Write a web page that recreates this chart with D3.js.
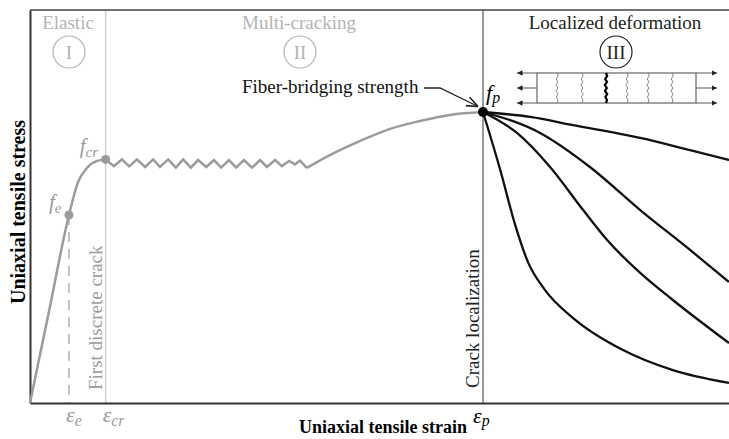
<!DOCTYPE html>
<html>
<head>
<meta charset="utf-8">
<script src="https://cdn.jsdelivr.net/npm/d3@7"></script>
<style>
body { margin: 0; background: #fff; }
svg { display: block; font-family: "Liberation Serif", "Times New Roman", serif; }
</style>
</head>
<body>
<div id="chart"></div>
<script>
// normalised strain (eps / eps_p) and stress (f / f_p)
const strainTicks = [0.086, 0.167, 1]      // eps_e, eps_cr, eps_p
const stressLevels = [0.646, 0.837, 1]     // f_e, f_cr, f_p
const xMax = 1.543, yMax = 1.3505

const elastic = [[0, 0], [0.043, 0.323], [0.086, 0.646], [0.106, 0.759], [0.126, 0.808], [0.148, 0.832], [0.167, 0.837]]
const cracking = [[0.167, 0.837], [0.185, 0.814], [0.203, 0.837], [0.219, 0.813], [0.236, 0.837], [0.254, 0.811],
    [0.272, 0.837], [0.287, 0.811], [0.305, 0.837], [0.322, 0.809], [0.338, 0.837], [0.355, 0.809], [0.371, 0.835],
    [0.389, 0.811], [0.406, 0.835], [0.422, 0.809], [0.439, 0.835], [0.455, 0.809], [0.472, 0.835], [0.490, 0.809],
    [0.508, 0.835], [0.523, 0.811], [0.541, 0.835], [0.556, 0.814], [0.572, 0.832], [0.585, 0.820], [0.596, 0.833],
    [0.611, 0.808]]
const hardening = [[0.611, 0.808], [0.662, 0.852], [0.728, 0.900], [0.795, 0.942], [0.861, 0.969], [0.927, 0.990], [1, 1]]
const softA = [[1, 1], [1.104, 0.983], [1.199, 0.955], [1.347, 0.911], [1.457, 0.869], [1.543, 0.835]]
const softB = [[1, 1], [1.126, 0.928], [1.236, 0.811], [1.347, 0.663], [1.457, 0.526], [1.543, 0.416]]
const softC = [[1, 1], [1.075, 0.928], [1.148, 0.811], [1.221, 0.663], [1.274, 0.560], [1.347, 0.447], [1.419, 0.354], [1.543, 0.206]]
const softD = [[1, 1], [1.038, 0.801], [1.071, 0.612], [1.099, 0.485], [1.137, 0.388], [1.199, 0.292], [1.309, 0.182], [1.419, 0.113], [1.543, 0.069]]

const gray = '#9b9b9b', lightGray = '#b4b4b4'

let svg = d3.select('#chart').append('svg')
    .attr('width', 729).attr('height', 439)

let x = d3.scaleLinear().domain([0, xMax]).range([30, 729])
let y = d3.scaleLinear().domain([0, yMax]).range([403, 10])

let smooth = d3.line().x(d => x(d[0])).y(d => y(d[1])).curve(d3.curveMonotoneX)
let straight = d3.line().x(d => x(d[0])).y(d => y(d[1]))

// vertical guide lines
svg.append('line')
    .attr('x1', x(strainTicks[1])).attr('x2', x(strainTicks[1]))
    .attr('y1', y(yMax)).attr('y2', y(0))
    .style('stroke', '#cfcfcf').style('stroke-width', 1.5)
svg.append('line')
    .attr('x1', x(strainTicks[2])).attr('x2', x(strainTicks[2]))
    .attr('y1', y(yMax)).attr('y2', y(0))
    .style('stroke', '#555').style('stroke-width', 1.2)
svg.append('line')
    .attr('x1', x(strainTicks[0])).attr('x2', x(strainTicks[0]))
    .attr('y1', y(stressLevels[0])).attr('y2', y(0))
    .style('stroke', gray).style('stroke-width', 1.2)
    .style('stroke-dasharray', '10,7')

// axes (no ticks) + top frame
svg.append('g')
    .attr('transform', `translate(0, ${y(0)})`)
    .call(d3.axisBottom(x).tickValues([]).tickSizeOuter(0))
    .select('.domain').style('stroke', '#333').style('stroke-width', 2)
svg.append('g')
    .attr('transform', `translate(${x(0)}, 0)`)
    .call(d3.axisLeft(y).tickValues([]).tickSizeOuter(0))
    .select('.domain').style('stroke', '#333').style('stroke-width', 2)
svg.append('line')
    .attr('x1', x(0)).attr('x2', x(xMax)).attr('y1', y(yMax)).attr('y2', y(yMax))
    .style('stroke', '#444').style('stroke-width', 1.5)

// grey pre-peak curve
svg.append('path').attr('d', smooth(elastic))
    .style('fill', 'none').style('stroke', gray).style('stroke-width', 2.5)
svg.append('path').attr('d', straight(cracking))
    .style('fill', 'none').style('stroke', gray).style('stroke-width', 2.5)
    .style('stroke-linejoin', 'miter')
svg.append('path').attr('d', smooth(hardening))
    .style('fill', 'none').style('stroke', gray).style('stroke-width', 2.5)

// softening branches
svg.selectAll('.soft').data([softA, softB, softC, softD]).enter()
    .append('path').attr('class', 'soft')
    .attr('d', d => smooth(d))
    .style('fill', 'none').style('stroke', '#111').style('stroke-width', 2.3)

// points
svg.selectAll('.pt').data(stressLevels).enter()
    .append('circle').attr('class', 'pt')
    .attr('cx', (d, i) => x(strainTicks[i]))
    .attr('cy', d => y(d))
    .attr('r', (d, i) => i == 2 ? 5 : 4.5)
    .style('fill', (d, i) => i == 2 ? '#000' : gray)

// symbol labels with subscripts
function sym(px, py, main, sub, col, size, dy) {
    let t = svg.append('text').attr('x', px).attr('y', py)
        .style('fill', col).style('font-style', 'italic').style('font-size', size + 'px')
    t.append('tspan').text(main)
    t.append('tspan').text(sub).attr('dy', dy).style('font-size', (size * 0.72) + 'px')
}
sym(x(strainTicks[0]) - 20, y(stressLevels[0]) - 6, 'f', 'e', gray, 21, 4)
sym(x(strainTicks[1]) - 26, y(stressLevels[1]) - 6, 'f', 'cr', gray, 21, 4)
sym(x(strainTicks[2]) + 3, y(stressLevels[2]) - 12, 'f', 'p', '#000', 22, 3)
sym(x(strainTicks[0]) - 3, 422, 'ε', 'e', gray, 22, 4)
sym(x(strainTicks[1]) - 3, 422, 'ε', 'cr', gray, 22, 4)
sym(x(strainTicks[2]) - 10, 423, 'ε', 'p', '#000', 22, 3)

// region titles
let regions = [
    { name: 'Elastic', num: 'I', cx: 68, col: lightGray },
    { name: 'Multi-cracking', num: 'II', cx: 299, col: lightGray },
    { name: 'Localized deformation', num: 'III', cx: 615, col: '#222' }
]
regions.forEach(r => {
    svg.append('text').attr('x', r.cx).attr('y', 29).attr('text-anchor', 'middle')
        .style('font-size', '19px').style('fill', r.col).text(r.name)
    svg.append('circle').attr('cx', r.cx + 1).attr('cy', 52).attr('r', 16)
        .style('fill', 'none').style('stroke', r.col).style('stroke-width', 1.2)
    svg.append('text').attr('x', r.cx + 1).attr('y', 59).attr('text-anchor', 'middle')
        .style('font-size', '19px').style('fill', r.col).text(r.num)
})

// rotated annotations
svg.append('text')
    .attr('transform', `translate(${x(strainTicks[1]) - 4}, 390) rotate(-90)`)
    .style('font-size', '19px').style('fill', gray).text('First discrete crack')
svg.append('text')
    .attr('transform', `translate(${x(strainTicks[2]) - 4}, 388) rotate(-90)`)
    .style('font-size', '19px').style('fill', '#222').text('Crack localization')

// fiber-bridging strength callout
svg.append('defs').append('marker')
    .attr('id', 'head').attr('viewBox', '0 0 10 10')
    .attr('refX', 9).attr('refY', 5)
    .attr('markerWidth', 9).attr('markerHeight', 9)
    .attr('orient', 'auto')
    .append('path').attr('d', 'M0,1 L10,5 L0,9')
    .style('fill', 'none').style('stroke', '#222').style('stroke-width', 1.4)
svg.append('text').attr('x', 242).attr('y', 93)
    .style('font-size', '19px').style('fill', '#111').text('Fiber-bridging strength')
svg.append('path')
    .attr('d', `M424,88 L440,88 L${x(1) - 6},${y(1) - 6}`)
    .style('fill', 'none').style('stroke', '#222').style('stroke-width', 1.3)
    .attr('marker-end', 'url(#head)')

// specimen sketch
let spec = svg.append('g')
spec.append('rect').attr('x', 537).attr('y', 73).attr('width', 159).attr('height', 30)
    .style('fill', 'none').style('stroke', '#666').style('stroke-width', 1.2)
let arrowYs = [73, 88, 103]
let tri = svg.select('defs').append('marker')
    .attr('id', 'tri').attr('viewBox', '0 0 10 10')
    .attr('refX', 10).attr('refY', 5)
    .attr('markerWidth', 5).attr('markerHeight', 5)
    .attr('orient', 'auto')
tri.append('path').attr('d', 'M0,0 L10,5 L0,10 Z').style('fill', '#222')
arrowYs.forEach(ay => {
    spec.append('line').attr('x1', 537).attr('x2', 517).attr('y1', ay).attr('y2', ay)
        .style('stroke', '#666').style('stroke-width', 1.1).attr('marker-end', 'url(#tri)')
    spec.append('line').attr('x1', 696).attr('x2', 717).attr('y1', ay).attr('y2', ay)
        .style('stroke', '#666').style('stroke-width', 1.1).attr('marker-end', 'url(#tri)')
})
let crackXs = [557, 582, 606, 627, 648, 672]
let wiggle = [0, 1.2, -0.8, 1, -1.2, 0.8, -1, 1.2, -0.6, 1, 0]
crackXs.forEach((cx, i) => {
    let pts = wiggle.map((w, k) => [cx + w, 73 + k * 3])
    spec.append('path').attr('d', d3.line()(pts))
        .style('fill', 'none')
        .style('stroke', i == 2 ? '#000' : '#888')
        .style('stroke-width', i == 2 ? 2.2 : 1)
})

// axis titles
svg.append('text').attr('x', 383).attr('y', 433).attr('text-anchor', 'middle')
    .style('font-size', '18px').style('font-weight', 'bold').text('Uniaxial tensile strain')
svg.append('text')
    .attr('transform', 'translate(25, 212) rotate(-90)').attr('text-anchor', 'middle')
    .style('font-size', '20px').style('font-weight', 'bold').text('Uniaxial tensile stress')
</script>
</body>
</html>
